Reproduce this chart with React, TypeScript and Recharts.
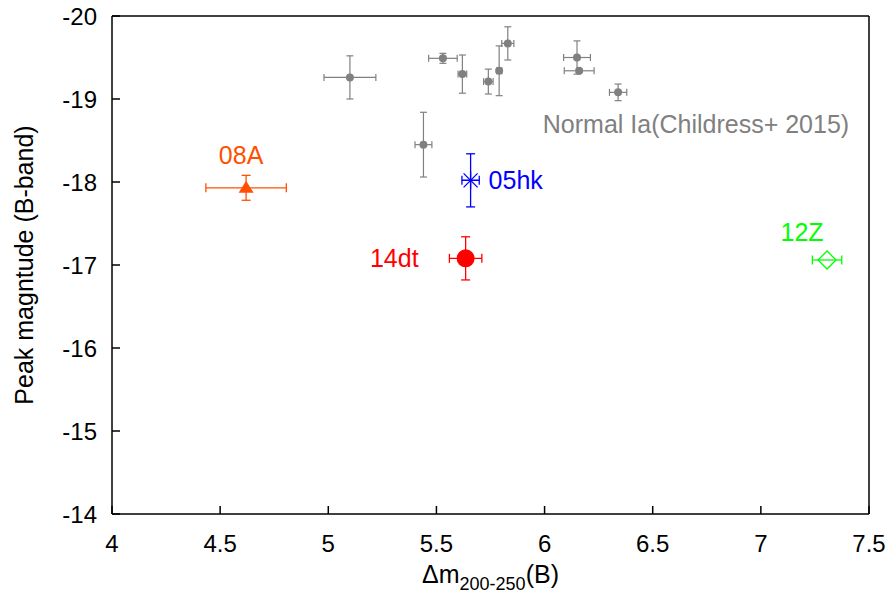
import React from 'react';
import { ScatterChart, Scatter, XAxis, YAxis, ErrorBar, Label } from 'recharts';

document.body.style.margin = '0';

const FONT = '"Liberation Sans", Arial, Helvetica, sans-serif';
const FS = 24;
const LFS = 25;

const xTicks = [4, 4.5, 5, 5.5, 6, 6.5, 7, 7.5];
const yTicks = [-20, -19, -18, -17, -16, -15, -14];

// Normal Ia sample (Childress+ 2015)
const normalX = [5.10, 5.53, 5.62, 5.74, 5.79, 5.83, 6.15, 6.16, 6.34, 5.44];
const normalY = [-19.26, -19.49, -19.30, -19.21, -19.34, -19.67, -19.50, -19.34, -19.08, -18.45];
const normalXErr = [0.12, 0.066, 0.02, 0.022, 0.012, 0.028, 0.062, 0.069, 0.04, 0.039];
const normalYErr = [0.26, 0.06, 0.23, 0.15, 0.30, 0.20, 0.20, 0.02, 0.10, 0.39];

const sn08A = [{ x: 4.62, y: -17.93, ex: 0.186, ey: 0.15 }];
const sn05hk = [{ x: 5.658, y: -18.02, ex: 0.04, ey: 0.32 }];
const sn14dt = [{ x: 5.635, y: -17.08, ex: 0.075, ey: 0.26 }];
const sn12Z = [{ x: 7.306, y: -17.06, ex: 0.068 }];
const noteText = [{ x: 6.70, y: -18.70 }];

const normalData = normalX.map((x, i) => ({ x, y: normalY[i], ex: normalXErr[i], ey: normalYErr[i] }));

const GRAY = '#808080';
const ORANGE = '#ff5000';
const BLUE = '#0000ff';
const RED = '#ff0000';
const GREEN = '#00ff00';

const lbl = (x: number, y: number, s: string, fill: string, anchor: 'start' | 'middle' | 'end') => (
  <text x={x} y={y + 9} fill={fill} fontSize={LFS} fontFamily={FONT} textAnchor={anchor}>{s}</text>
);

const XTick = (p: any) => (
  <text x={p.x} y={p.y + 17} textAnchor="middle" fontSize={FS} fontFamily={FONT} fill="#000">
    {p.payload.value}
  </text>
);

const YTick = (p: any) => (
  <text x={p.x} y={p.y + 8.6} textAnchor="end" fontSize={FS} fontFamily={FONT} fill="#000">
    {p.payload.value}
  </text>
);

export default function App() {
  return (
    <ScatterChart width={889} height={595} margin={{ top: 15, right: 19, bottom: 0, left: 0 }}>
      <XAxis
        type="number"
        dataKey="x"
        domain={[4, 7.5]}
        ticks={xTicks}
        allowDataOverflow
        height={81}
        tickSize={-8}
        tickMargin={29}
        stroke="#000"
        strokeWidth={1.5}
        tick={<XTick />}
      >
        <Label
          content={(props: any) => {
            const vb = props.viewBox;
            return (
              <text x={vb.x + vb.width / 2} y={583} textAnchor="middle" fontFamily={FONT} fontSize={LFS} fill="#000">
                <tspan>Δm</tspan>
                <tspan fontSize={18} dy={7}>200-250</tspan>
                <tspan dy={-7}>(B)</tspan>
              </text>
            );
          }}
        />
      </XAxis>
      <XAxis
        xAxisId="top"
        orientation="top"
        type="number"
        dataKey="x"
        domain={[4, 7.5]}
        ticks={xTicks}
        allowDataOverflow
        height={1}
        tickSize={-8}
        stroke="#000"
        strokeWidth={1.5}
        tick={false}
      />
      <YAxis
        type="number"
        dataKey="y"
        domain={[-20, -14]}
        ticks={yTicks}
        reversed
        allowDataOverflow
        width={112}
        tickSize={-8}
        tickMargin={23}
        stroke="#000"
        strokeWidth={1.5}
        tick={<YTick />}
      >
        <Label
          content={(props: any) => {
            const vb = props.viewBox;
            const cx = 33;
            const cy = vb.y + vb.height / 2;
            return (
              <text x={cx} y={cy} transform={`rotate(-90 ${cx} ${cy})`} textAnchor="middle" fontFamily={FONT} fontSize={LFS} fill="#000">
                Peak magntude (B-band)
              </text>
            );
          }}
        />
      </YAxis>
      <YAxis
        yAxisId="right"
        orientation="right"
        type="number"
        dataKey="y"
        domain={[-20, -14]}
        ticks={yTicks}
        reversed
        allowDataOverflow
        width={1}
        tickSize={-8}
        stroke="#000"
        strokeWidth={1.5}
        tick={false}
      />

      <Scatter
        data={normalData}
        isAnimationActive={false}
        shape={(p: any) => <circle cx={p.cx} cy={p.cy} r={4} fill={GRAY} />}
      >
        <ErrorBar dataKey="ex" direction="x" width={3.5} stroke={GRAY} strokeWidth={1.2} />
        <ErrorBar dataKey="ey" direction="y" width={3.5} stroke={GRAY} strokeWidth={1.2} />
      </Scatter>

      <Scatter
        data={sn08A}
        isAnimationActive={false}
        shape={(p: any) => (
          <g>
            <path d={`M${p.cx},${p.cy - 7} L${p.cx + 7.5},${p.cy + 5} L${p.cx - 7.5},${p.cy + 5} Z`} fill={ORANGE} />
            {lbl(p.cx - 5, p.cy - 33, '08A', ORANGE, 'middle')}
          </g>
        )}
      >
        <ErrorBar dataKey="ex" direction="x" width={4.5} stroke={ORANGE} strokeWidth={1.3} />
        <ErrorBar dataKey="ey" direction="y" width={4.5} stroke={ORANGE} strokeWidth={1.3} />
      </Scatter>

      <Scatter
        data={sn05hk}
        isAnimationActive={false}
        shape={(p: any) => (
          <g stroke={BLUE} strokeWidth={1.3}>
            <line x1={p.cx - 9} y1={p.cy} x2={p.cx + 9} y2={p.cy} />
            <line x1={p.cx} y1={p.cy - 9} x2={p.cx} y2={p.cy + 9} />
            <line x1={p.cx - 7} y1={p.cy - 7} x2={p.cx + 7} y2={p.cy + 7} />
            <line x1={p.cx - 7} y1={p.cy + 7} x2={p.cx + 7} y2={p.cy - 7} />
            <g stroke="none">{lbl(p.cx + 18, p.cy, '05hk', BLUE, 'start')}</g>
          </g>
        )}
      >
        <ErrorBar dataKey="ex" direction="x" width={4.5} stroke={BLUE} strokeWidth={1.3} />
        <ErrorBar dataKey="ey" direction="y" width={4.5} stroke={BLUE} strokeWidth={1.3} />
      </Scatter>

      <Scatter
        data={sn14dt}
        isAnimationActive={false}
        shape={(p: any) => (
          <g>
            <circle cx={p.cx} cy={p.cy} r={9} fill={RED} />
            {lbl(p.cx - 47, p.cy, '14dt', RED, 'end')}
          </g>
        )}
      >
        <ErrorBar dataKey="ex" direction="x" width={4.5} stroke={RED} strokeWidth={1.3} />
        <ErrorBar dataKey="ey" direction="y" width={4.5} stroke={RED} strokeWidth={1.3} />
      </Scatter>

      <Scatter
        data={sn12Z}
        isAnimationActive={false}
        shape={(p: any) => (
          <g>
            <path d={`M${p.cx - 9},${p.cy} L${p.cx},${p.cy - 9} L${p.cx + 9},${p.cy} L${p.cx},${p.cy + 9} Z`} fill="none" stroke={GREEN} strokeWidth={1.3} />
            {lbl(p.cx - 25, p.cy - 28, '12Z', GREEN, 'middle')}
          </g>
        )}
      >
        <ErrorBar dataKey="ex" direction="x" width={4.5} stroke={GREEN} strokeWidth={1.3} />
      </Scatter>

      <Scatter
        data={noteText}
        isAnimationActive={false}
        shape={(p: any) => lbl(p.cx, p.cy, 'Normal Ia(Childress+ 2015)', GRAY, 'middle')}
      />
    </ScatterChart>
  );
}
